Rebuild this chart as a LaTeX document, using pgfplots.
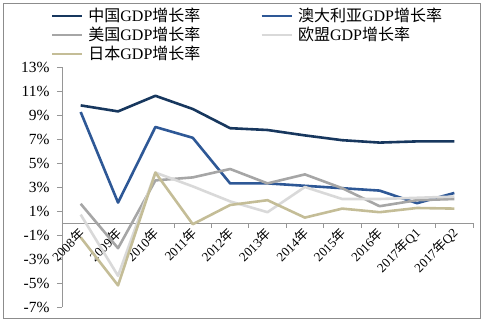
\documentclass[border=0pt]{standalone}
\usepackage{fontspec}
\setmainfont{Liberation Serif}
\newfontfamily\cjk{Noto Sans CJK SC}
\usepackage{pgfplots}
\pgfplotsset{compat=1.18}
\definecolor{cChina}{RGB}{23,55,94}
\definecolor{cAus}{RGB}{46,88,150}
\definecolor{cUS}{RGB}{166,166,166}
\definecolor{cEU}{RGB}{217,217,217}
\definecolor{cJP}{RGB}{196,189,151}
\definecolor{axgray}{RGB}{150,150,150}
\newcommand\nian{{\cjk 年}}
\newcommand\zz{{\cjk 增长率}}
\begin{document}
\begin{tikzpicture}
\path[use as bounding box] (0,0) rectangle (488pt,321pt);
\draw[color={rgb,255:red,140;green,140;blue,140}, line width=0.8pt] (3pt,3pt) rectangle (480pt,318pt);
\begin{axis}[
  at={(62pt,14pt)}, anchor=south west,
  scale only axis, width=411pt, height=240pt,
  xmin=-0.5, xmax=10.5, ymin=-7, ymax=13,
  axis x line=middle, axis y line=left,
  axis line style={-, color=axgray, line width=0.8pt},
  xtick={0,...,10},
  xticklabels={2008\nian,2009\nian,2010\nian,2011\nian,2012\nian,2013\nian,2014\nian,2015\nian,2016\nian,2017\nian Q1,2017\nian Q2},
  minor xtick={-0.5,0.5,...,10.5},
  major x tick style={draw=none},
  minor x tick style={color=axgray, line width=0.8pt},
  minor tick length=5pt,
  xticklabel style={rotate=45, anchor=east, font=\fontsize{13}{14}\selectfont, yshift=-3pt, xshift=2pt},
  ytick={-7,-5,...,13},
  yticklabel={\pgfmathprintnumber{\tick}\%},
  yticklabel style={font=\fontsize{15.5}{16}\selectfont, xshift=-4pt},
  y tick style={color=axgray, line width=0.8pt},
  major tick length=5pt,
  tick align=outside,
  /pgf/number format/assume math mode=true,
  every axis plot/.append style={line width=2.6pt, line join=round, mark=none},
  legend columns=2,
  legend style={at={(-0.035,1.262)}, anchor=north west, draw=none, fill=none,
    font=\fontsize{16}{19}\selectfont, column sep=3pt, row sep=0pt,
    /tikz/every even column/.append style={column sep=58pt}},
  legend cell align=left,
  legend image code/.code={\draw[#1, line width=2.6pt] (0pt,0pt) -- (30pt,0pt);},
  clip=false,
]
\addplot[cChina] coordinates {(0,9.8) (1,9.3) (2,10.6) (3,9.5) (4,7.9) (5,7.75) (6,7.3) (7,6.9) (8,6.7) (9,6.8) (10,6.8)};
\addlegendentry{{\cjk 中国}GDP\zz}
\addplot[cAus] coordinates {(0,9.25) (1,1.7) (2,8.0) (3,7.1) (4,3.3) (5,3.3) (6,3.1) (7,2.9) (8,2.7) (9,1.65) (10,2.5)};
\addlegendentry{{\cjk 澳大利亚}GDP\zz}
\addplot[cUS] coordinates {(0,1.6) (1,-2.1) (2,3.55) (3,3.8) (4,4.5) (5,3.3) (6,4.05) (7,2.9) (8,1.4) (9,1.9) (10,2.0)};
\addlegendentry{{\cjk 美国}GDP\zz}
\addplot[cEU] coordinates {(0,0.7) (1,-4.4) (2,4.2) (3,3.05) (4,1.8) (5,0.9) (6,3.0) (7,2.0) (8,2.0) (9,2.1) (10,2.2)};
\addlegendentry{{\cjk 欧盟}GDP\zz}
\addplot[cJP] coordinates {(0,-1.2) (1,-5.2) (2,4.2) (3,-0.1) (4,1.5) (5,1.9) (6,0.45) (7,1.2) (8,0.9) (9,1.25) (10,1.2)};
\addlegendentry{{\cjk 日本}GDP\zz}
\end{axis}
\end{tikzpicture}
\end{document}
